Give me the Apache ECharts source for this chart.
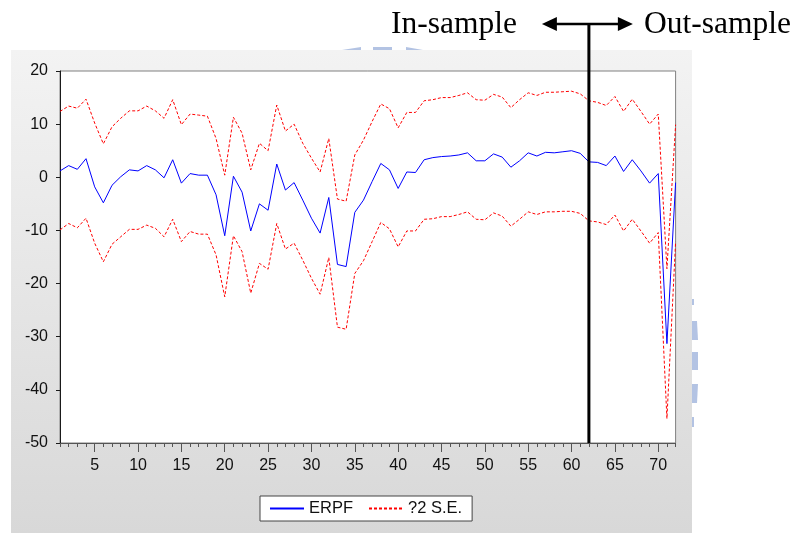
<!DOCTYPE html>
<html><head><meta charset="utf-8">
<script src="https://cdn.jsdelivr.net/npm/echarts@6/dist/echarts.min.js"></script>
<style>html,body{margin:0;padding:0;background:#fff;}#c{width:797px;height:533px;}</style>
</head><body><div id="c"></div>
<script>
const periods = ['1','2','3','4','5','6','7','8','9','10','11','12','13','14','15','16','17','18','19','20','21','22','23','24','25','26','27','28','29','30','31','32','33','34','35','36','37','38','39','40','41','42','43','44','45','46','47','48','49','50','51','52','53','54','55','56','57','58','59','60','61','62','63','64','65','66','67','68','69','70','71','72'];
const erpf = [1.2,2.2,1.5,3.5,-1.8,-4.8,-1.5,0.1,1.4,1.2,2.2,1.4,-0.1,3.3,-1.1,0.7,0.4,0.4,-3.3,-11.0,0.2,-2.8,-10.1,-5.0,-6.2,2.5,-2.4,-1.0,-4.3,-7.7,-10.5,-3.8,-16.4,-16.8,-6.6,-4.3,-0.8,2.6,1.4,-2.1,1.0,0.9,3.3,3.7,3.9,4.0,4.2,4.6,3.1,3.1,4.4,3.8,1.9,3.1,4.6,4.0,4.7,4.6,4.8,5.0,4.5,2.9,2.8,2.2,4.0,1.1,3.3,1.2,-1.1,0.7,-31.3,-1.0];
const upperSE = [12.4,13.4,13.0,14.7,10.2,6.3,9.5,11.1,12.5,12.5,13.4,12.5,11.1,14.6,9.9,11.9,11.7,11.5,7.3,0.4,11.3,8.3,1.4,6.4,5.0,13.6,8.7,10.0,6.4,3.6,1.0,7.3,-4.1,-4.5,4.2,7.0,10.5,13.8,12.9,9.3,12.2,12.2,14.4,14.6,15.0,15.0,15.4,15.9,14.6,14.5,15.6,15.1,13.1,14.6,15.9,15.4,16.0,16.0,16.1,16.2,15.7,14.4,14.1,13.5,15.2,12.4,14.7,12.4,10.0,11.9,-17.2,9.9];
const lowerSE = [-9.9,-8.7,-9.5,-7.7,-12.4,-15.9,-12.6,-11.2,-9.8,-9.8,-9.0,-9.6,-11.2,-7.9,-12.1,-10.2,-10.7,-10.7,-14.6,-22.5,-11.0,-14.0,-21.8,-16.2,-17.3,-8.7,-13.5,-12.4,-15.6,-19.0,-22.0,-15.1,-28.2,-28.6,-18.1,-15.7,-12.1,-8.5,-9.7,-13.1,-10.1,-10.1,-7.9,-7.8,-7.4,-7.4,-7.0,-6.5,-7.9,-8.0,-6.7,-7.3,-9.2,-7.9,-6.5,-7.0,-6.5,-6.5,-6.4,-6.4,-6.8,-8.2,-8.4,-8.9,-7.1,-10.1,-7.9,-10.1,-12.4,-10.4,-45.4,-12.1];
const yTicks = {min: -50, max: 20, interval: 10};
const splitPeriod = '62';
const seriesNames = ['ERPF', '?2 S.E.'];
const annotLeft = 'In-sample';
const annotRight = 'Out-sample';

const chart = echarts.init(document.getElementById('c'), null, {renderer: 'canvas'});
const sans = 'Liberation Sans, Arial, sans-serif';
const majorFn = function (idx) { return (idx + 1) % 5 === 0; };
const wm = '#b3c3e3';

const option = {
  animation: false,
  backgroundColor: '#ffffff',
  graphic: [{
    id: 'bg', type: 'rect', z: -5, silent: true,
    shape: {x: 11, y: 50, width: 681, height: 483},
    style: {fill: new echarts.graphic.LinearGradient(0, 0, 0, 1, [
      {offset: 0, color: '#f3f3f3'}, {offset: 1, color: '#d8d8d8'}])}
  },
  {id: 'w1', type: 'polygon', z: -6, silent: true, shape: {points: [[342, 50], [361, 47], [361, 50]]}, style: {fill: wm}},
  {id: 'w2', type: 'rect', z: -6, silent: true, shape: {x: 373, y: 47, width: 19, height: 3}, style: {fill: wm}},
  {id: 'w3', type: 'polygon', z: -6, silent: true, shape: {points: [[406, 47], [423, 50], [406, 50]]}, style: {fill: wm}},
  {id: 'w4', type: 'rect', z: -6, silent: true, shape: {x: 692, y: 299, width: 2, height: 6}, style: {fill: wm}},
  {id: 'w5', type: 'polygon', z: -6, silent: true, shape: {points: [[692, 321], [697, 321], [698, 340], [692, 340]]}, style: {fill: wm}},
  {id: 'w6', type: 'rect', z: -6, silent: true, shape: {x: 692, y: 352, width: 6, height: 18}, style: {fill: wm}},
  {id: 'w7', type: 'polygon', z: -6, silent: true, shape: {points: [[692, 384], [698, 384], [697, 403], [692, 403]]}, style: {fill: wm}},
  {id: 'w8', type: 'rect', z: -6, silent: true, shape: {x: 692, y: 417, width: 2, height: 10}, style: {fill: wm}}
  ],
  grid: {left: 60, right: 121.4, top: 71, bottom: 90, show: true,
         backgroundColor: '#ffffff', borderColor: '#808080', borderWidth: 1},
  legend: {
    data: seriesNames, left: 260, top: 496, orient: 'horizontal',
    backgroundColor: '#ffffff', borderColor: '#444', borderWidth: 1, borderRadius: 0,
    padding: [4, 10, 4, 9], itemWidth: 34, itemHeight: 10, itemGap: 15,
    itemStyle: {opacity: 0},
    textStyle: {fontFamily: sans, fontSize: 16.5, color: '#111'}
  },
  xAxis: [{
    type: 'category', data: periods, boundaryGap: false, position: 'bottom',
    axisLine: {show: true, onZero: false, lineStyle: {color: '#555', width: 1}},
    axisTick: {show: true, interval: 0, length: 4, lineStyle: {color: '#555'}},
    axisLabel: {show: false}, splitLine: {show: false}
  }, {
    type: 'category', data: periods, boundaryGap: false, position: 'bottom',
    axisLine: {show: false, onZero: false},
    axisTick: {show: true, interval: majorFn, length: 9, lineStyle: {color: '#555'}},
    axisLabel: {show: true, interval: majorFn, margin: 15, fontFamily: sans, fontSize: 16, color: '#111'},
    splitLine: {show: false}
  }],
  yAxis: {
    type: 'value', min: yTicks.min, max: yTicks.max, interval: yTicks.interval,
    axisLine: {show: true, onZero: false, lineStyle: {color: '#1a1a1a', width: 1}},
    axisTick: {show: true, length: 4, lineStyle: {color: '#1a1a1a'}},
    axisLabel: {margin: 12, fontFamily: sans, fontSize: 16, color: '#111'},
    splitLine: {show: false}
  },
  series: [{
    name: seriesNames[0], type: 'line', data: erpf, xAxisIndex: 0, symbol: 'none',
    lineStyle: {color: '#0000ff', width: 1}, itemStyle: {color: '#0000ff'}
  }, {
    name: seriesNames[1], type: 'line', data: upperSE, xAxisIndex: 0, symbol: 'none',
    lineStyle: {color: '#ff0000', width: 1, type: [3, 2]}, itemStyle: {color: '#ff0000'}
  }, {
    name: seriesNames[1], type: 'line', data: lowerSE, xAxisIndex: 0, symbol: 'none',
    lineStyle: {color: '#ff0000', width: 1, type: [3, 2]}, itemStyle: {color: '#ff0000'}
  }]
};
chart.setOption(option);

const xs = chart.convertToPixel({xAxisIndex: 0}, splitPeriod);
const yb = chart.convertToPixel({yAxisIndex: 0}, yTicks.min);
const ay = 24;
chart.setOption({graphic: [
  {id: 'vline', type: 'line', z: 50, silent: true,
   shape: {x1: xs, y1: ay, x2: xs, y2: yb}, style: {stroke: '#000', lineWidth: 3}},
  {id: 'hline', type: 'line', z: 50, silent: true,
   shape: {x1: xs - 40, y1: ay, x2: xs + 38, y2: ay}, style: {stroke: '#000', lineWidth: 2.5}},
  {id: 'arrL', type: 'polygon', z: 50, silent: true,
   shape: {points: [[xs - 47, ay], [xs - 32, ay - 7], [xs - 32, ay + 7]]}, style: {fill: '#000'}},
  {id: 'arrR', type: 'polygon', z: 50, silent: true,
   shape: {points: [[xs + 44, ay], [xs + 29, ay - 7], [xs + 29, ay + 7]]}, style: {fill: '#000'}},
  {id: 'tL', type: 'text', z: 50, silent: true, x: xs - 72, y: 25,
   style: {text: annotLeft, fontFamily: 'Liberation Serif, Times New Roman, serif', fontSize: 31.5,
           fill: '#000', align: 'right', verticalAlign: 'middle'}},
  {id: 'tR', type: 'text', z: 50, silent: true, x: xs + 55, y: 25,
   style: {text: annotRight, fontFamily: 'Liberation Serif, Times New Roman, serif', fontSize: 31.5,
           fill: '#000', align: 'left', verticalAlign: 'middle'}}
]});
</script></body></html>
